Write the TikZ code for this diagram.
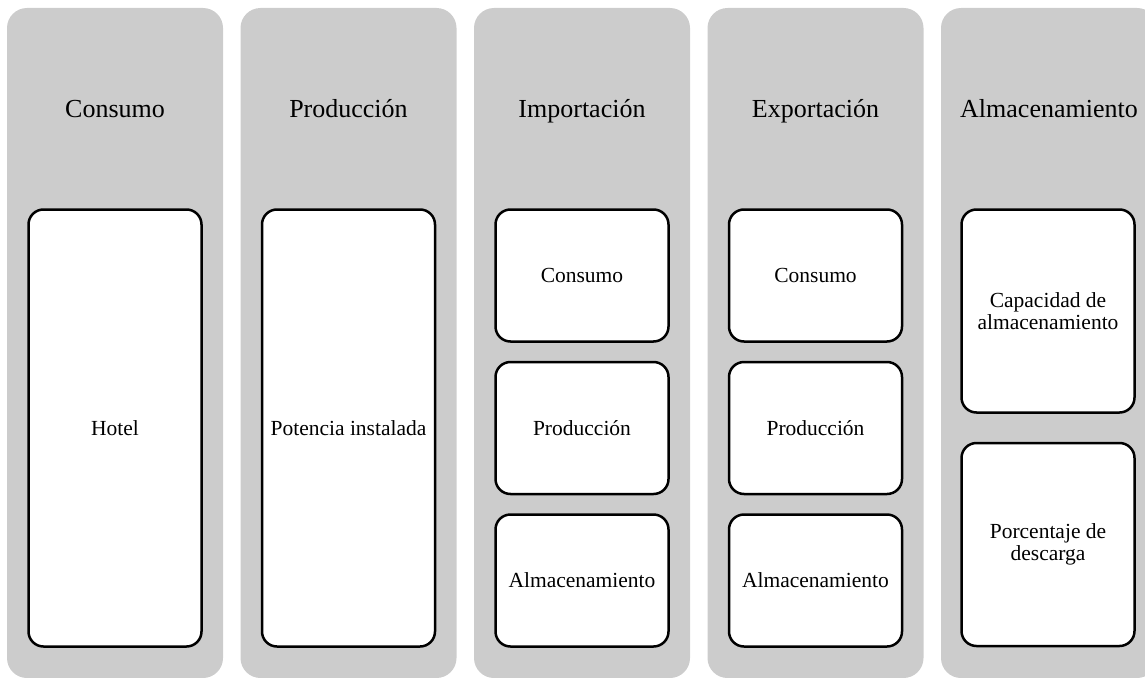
\documentclass[tikz,border=0pt]{standalone}
\usepackage{fontspec}
\setmainfont{Liberation Serif}
\definecolor{colgray}{RGB}{204,204,204}

\begin{document}
\begin{tikzpicture}[x=1pt, y=-1pt,
  column/.style={rectangle, rounded corners=20pt, fill=colgray, minimum width=216pt, minimum height=670pt},
  heading/.style={anchor=base, font=\fontsize{26}{30}\selectfont},
  item/.style={rectangle, rounded corners=15pt, draw=black, line width=2.5pt, fill=white, minimum width=173pt, align=center, text height=14pt, text depth=0pt, font=\fontsize{21.5}{22}\selectfont}]

\useasboundingbox (0,0) rectangle (1145,677);
\clip (0,0) rectangle (1145,677);

%% COLUMNAS
\node[column] at (115,343) (ColCons) {};
\node[column] at (348.5,343) (ColProd) {};
\node[column] at (582,343) (ColImp) {};
\node[column] at (815.5,343) (ColExp) {};
\node[column] at (1049,343) (ColAlm) {};

% Titulos
\node[heading] at (115,117) (TCons) {Consumo};
\node[heading] at (348.5,117) (TProd) {Producción};
\node[heading] at (582,117) (TImp) {Importación};
\node[heading] at (815.5,117) (TExp) {Exportación};
\node[heading] at (1049,117) (TAlm) {Almacenamiento};

%% CONSUMO
\node[item, minimum height=437pt] at (115,428) (Hotel) {Hotel};

%% PRODUCCION
\node[item, minimum height=437pt] at (348.5,428) (Pot) {Potencia instalada};

%% IMPORTACION
\node[item, minimum height=132pt] at (582,275.5) (ImpCons) {Consumo};
\node[item, minimum height=132pt] at (582,428) (ImpProd) {Producción};
\node[item, minimum height=132pt] at (582,580.5) (ImpAlm) {Almacenamiento};

%% EXPORTACION
\node[item, minimum height=132pt] at (815.5,275.5) (ExpCons) {Consumo};
\node[item, minimum height=132pt] at (815.5,428) (ExpProd) {Producción};
\node[item, minimum height=132pt] at (815.5,580.5) (ExpAlm) {Almacenamiento};

%% ALMACENAMIENTO
\node[item, minimum height=203pt, text height=, text depth=] at (1048,311) (Cap) {Capacidad de\\almacenamiento};
\node[item, minimum height=203pt, text height=, text depth=] at (1048,544.5) (Desc) {Porcentaje de\\descarga};

\end{tikzpicture}
\end{document}
